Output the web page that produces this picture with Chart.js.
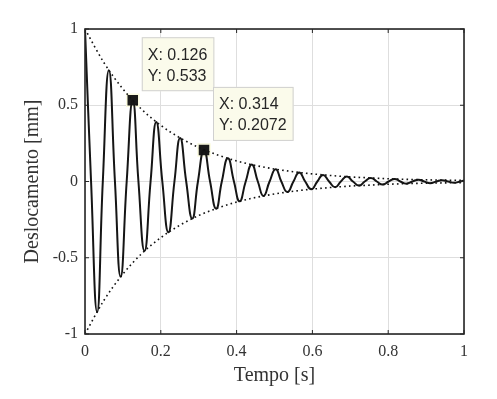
<!DOCTYPE html>
<html lang="pt">
<head>
    <meta charset="UTF-8" />
    <title>Deslocamento x Tempo</title>
    <script src="https://cdn.jsdelivr.net/npm/chart.js"></script>
    <style>
        html, body { margin: 0; padding: 0; background: #fff; }
        #wrap { width: 497px; height: 399px; }
    </style>
</head>
<body>
    <div id="wrap">
        <canvas id="chart" width="497" height="399"></canvas>
    </div>
    <script>
        // response: peaks/troughs and zero crossings
        const tempo = [
            0, 0.016, 0.032, 0.047, 0.063, 0.079, 0.094, 0.110, 0.126, 0.141,
            0.157, 0.173, 0.188, 0.204, 0.220, 0.236, 0.251, 0.267, 0.283, 0.298,
            0.314, 0.330, 0.346, 0.361, 0.377, 0.393, 0.408, 0.424, 0.440, 0.456,
            0.471, 0.487, 0.503, 0.518, 0.534, 0.550, 0.565, 0.581, 0.597, 0.613,
            0.628, 0.644, 0.660, 0.675, 0.691, 0.707, 0.723, 0.738, 0.754, 0.770,
            0.785, 0.801, 0.817, 0.832, 0.848, 0.864, 0.880, 0.895, 0.911, 0.927,
            0.942, 0.958, 0.974, 0.990, 1.0
        ];
        const deslocamento = [
            1, 0, -0.855, 0, 0.730, 0, -0.625, 0, 0.533, 0,
            -0.456, 0, 0.390, 0, -0.333, 0, 0.285, 0, -0.243, 0,
            0.207, 0, -0.178, 0, 0.152, 0, -0.130, 0, 0.111, 0,
            -0.095, 0, 0.081, 0, -0.069, 0, 0.059, 0, -0.051, 0,
            0.043, 0, -0.037, 0, 0.032, 0, -0.027, 0, 0.023, 0,
            -0.020, 0, 0.017, 0, -0.014, 0, 0.012, 0, -0.011, 0,
            0.009, 0, -0.008, 0, 0.006
        ];

        // dotted envelope
        const envTempo = [0, 0.05, 0.1, 0.15, 0.2, 0.25, 0.3, 0.35, 0.4, 0.45, 0.5,
                          0.55, 0.6, 0.65, 0.7, 0.75, 0.8, 0.85, 0.9, 0.95, 1];
        const envUpper = [1, 0.779, 0.607, 0.472, 0.368, 0.287, 0.223, 0.174, 0.135, 0.105, 0.082,
                          0.064, 0.050, 0.039, 0.030, 0.024, 0.018, 0.014, 0.011, 0.009, 0.007];
        const envLower = [-1, -0.779, -0.607, -0.472, -0.368, -0.287, -0.223, -0.174, -0.135, -0.105, -0.082,
                          -0.064, -0.050, -0.039, -0.030, -0.024, -0.018, -0.014, -0.011, -0.009, -0.007];

        // data tips
        const tipX = [0.126, 0.314];
        const tipY = [0.533, 0.2072];

        const xTicks = [0, 0.2, 0.4, 0.6, 0.8, 1];
        const xTickLabels = ['0', '0.2', '0.4', '0.6', '0.8', '1'];
        const yTicks = [-1, -0.5, 0, 0.5, 1];
        const yTickLabels = ['-1', '-0.5', '0', '0.5', '1'];

        const toPoints = (xs, ys) => xs.map((x, i) => ({ x: x, y: ys[i] }));

        const serif = "'Liberation Serif', 'Times New Roman', serif";
        const axisColor = '#262626';

        // axes box + inward tick marks, like matlab
        const boxPlugin = {
            id: 'box',
            afterDatasetsDraw(chart) {
                const { ctx, chartArea: a, scales } = chart;
                ctx.save();
                ctx.strokeStyle = axisColor;
                ctx.lineWidth = 1;
                ctx.beginPath();
                scales.x.ticks.forEach(t => {
                    const px = scales.x.getPixelForValue(t.value);
                    ctx.moveTo(px, a.bottom); ctx.lineTo(px, a.bottom - 4);
                    ctx.moveTo(px, a.top); ctx.lineTo(px, a.top + 4);
                });
                scales.y.ticks.forEach(t => {
                    const py = scales.y.getPixelForValue(t.value);
                    ctx.moveTo(a.left, py); ctx.lineTo(a.left + 4, py);
                    ctx.moveTo(a.right, py); ctx.lineTo(a.right - 4, py);
                });
                ctx.stroke();
                ctx.lineWidth = 1.6;
                ctx.strokeRect(a.left, a.top, a.right - a.left, a.bottom - a.top);
                ctx.restore();
            }
        };

        const tipPlugin = {
            id: 'tips',
            afterDraw(chart) {
                const { ctx } = chart;
                const meta = chart.getDatasetMeta(3);
                ctx.save();
                ctx.font = "16px 'Liberation Sans', Arial, sans-serif";
                ctx.textBaseline = 'middle';
                meta.data.forEach((pt, i) => {
                    const l1 = 'X: ' + tipX[i];
                    const l2 = 'Y: ' + tipY[i];
                    const w = Math.max(ctx.measureText(l1).width, ctx.measureText(l2).width) + 13;
                    const h = 54;
                    const left = pt.x + 9;
                    const top = pt.y - 9 - h;
                    ctx.fillStyle = '#fbfbeb';
                    ctx.fillRect(left, top, w, h);
                    ctx.strokeStyle = '#d0d0d0';
                    ctx.lineWidth = 1;
                    ctx.strokeRect(left + 0.5, top + 0.5, w - 1, h - 1);
                    ctx.fillStyle = axisColor;
                    ctx.fillText(l1, left + 6, top + 18);
                    ctx.fillText(l2, left + 6, top + 39);
                });
                ctx.restore();
            }
        };

        new Chart(document.getElementById('chart'), {
            type: 'scatter',
            data: {
                datasets: [
                    {
                        data: toPoints(envTempo, envUpper),
                        showLine: true,
                        borderColor: '#111',
                        borderWidth: 1.6,
                        borderDash: [1.6, 3.2],
                        pointRadius: 0,
                        cubicInterpolationMode: 'monotone'
                    },
                    {
                        data: toPoints(envTempo, envLower),
                        showLine: true,
                        borderColor: '#111',
                        borderWidth: 1.6,
                        borderDash: [1.6, 3.2],
                        pointRadius: 0,
                        cubicInterpolationMode: 'monotone'
                    },
                    {
                        data: toPoints(tempo, deslocamento),
                        showLine: true,
                        borderColor: '#151515',
                        borderWidth: 2,
                        pointRadius: 0,
                        tension: 0.5
                    },
                    {
                        data: toPoints(tipX, tipY),
                        showLine: false,
                        pointStyle: 'rect',
                        pointRadius: 8.5,
                        backgroundColor: '#1a1a1a',
                        borderColor: '#fbfbe0',
                        borderWidth: 1.5
                    }
                ]
            },
            options: {
                responsive: false,
                animation: false,
                events: [],
                layout: { padding: { left: 0, right: 33, top: 29, bottom: 0 } },
                plugins: {
                    legend: { display: false },
                    tooltip: { enabled: false }
                },
                scales: {
                    x: {
                        type: 'linear',
                        min: 0,
                        max: 1,
                        afterBuildTicks: s => { s.ticks = xTicks.map(v => ({ value: v })); },
                        afterFit: s => { s.height = 65; },
                        grid: { color: '#dedede', drawTicks: false },
                        border: { display: false },
                        ticks: {
                            padding: 8,
                            color: '#333',
                            font: { family: serif, size: 16 },
                            maxRotation: 0,
                            callback: (v, i) => xTickLabels[i]
                        },
                        title: {
                            display: true,
                            text: 'Tempo [s]',
                            color: '#333',
                            font: { family: serif, size: 20 },
                            padding: { top: 0, bottom: 11 }
                        }
                    },
                    y: {
                        type: 'linear',
                        min: -1,
                        max: 1,
                        afterBuildTicks: s => { s.ticks = yTicks.map(v => ({ value: v })); },
                        afterFit: s => { s.width = 85; },
                        grid: { color: '#dedede', drawTicks: false },
                        border: { display: false },
                        ticks: {
                            padding: 7,
                            color: '#333',
                            font: { family: serif, size: 16 },
                            callback: (v, i) => yTickLabels[i]
                        },
                        title: {
                            display: true,
                            text: 'Deslocamento [mm]',
                            color: '#333',
                            font: { family: serif, size: 20 },
                            padding: { top: 21, bottom: 0 }
                        }
                    }
                }
            },
            plugins: [boxPlugin, tipPlugin]
        });
    </script>
</body>
</html>
